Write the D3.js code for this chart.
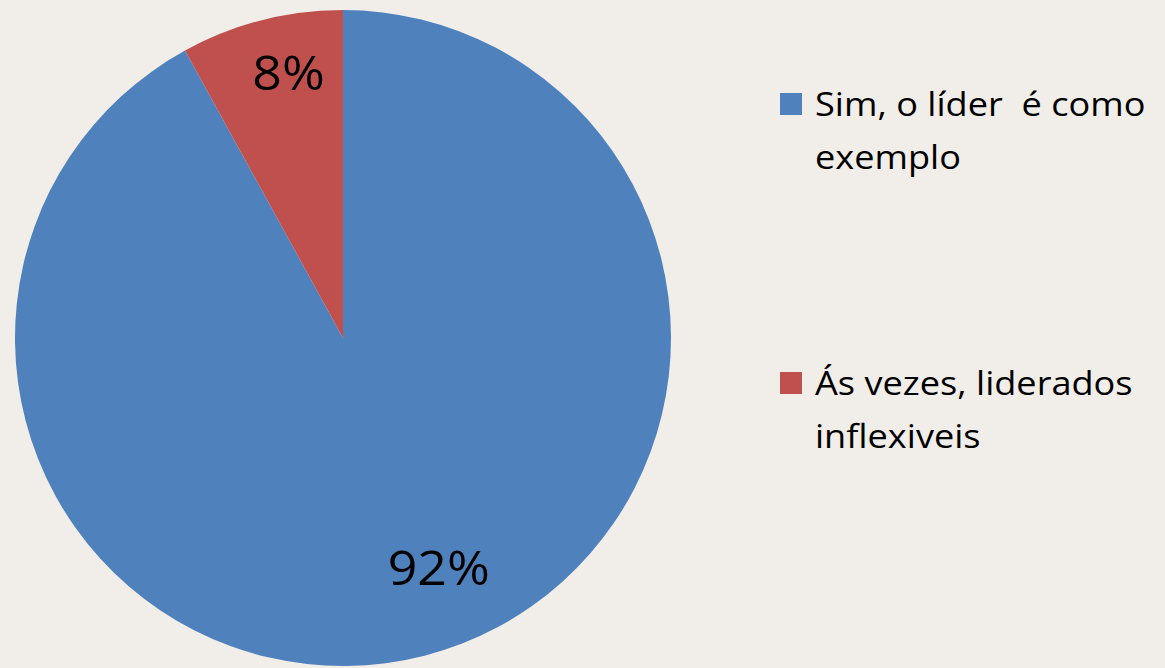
<!DOCTYPE html>
<html>
<head>
<meta charset="utf-8">
<script src="https://cdn.jsdelivr.net/npm/d3@7"></script>
<style>
  html, body { margin: 0; padding: 0; background: #f1eeea; }
  svg { display: block; }
  text { font-family: "Open Sans", Lato, sans-serif; fill: #000; white-space: pre; }
</style>
</head>
<body>
<svg id="chart" width="1165" height="668"></svg>
<script>
// Answer categories and their shares (percent)
const categories = ["Sim, o líder  é como exemplo", "Ás vezes, liderados inflexiveis"];
const legendLines = [["Sim, o líder  é como", "exemplo"], ["Ás vezes, liderados", "inflexiveis"]];
const values = [92, 8];
const valueLabels = ["92%", "8%"];
const colors = ["#4f81bd", "#c0504d"];

const svg = d3.select("#chart");
const cx = 343, cy = 338, radius = 328;

const pie = d3.pie().sort(null).value(d => d)(values);
const arc = d3.arc().innerRadius(0).outerRadius(radius);

const g = svg.append("g").attr("transform", `translate(${cx},${cy})`);

g.selectAll("path.slice")
  .data(pie)
  .join("path")
  .attr("class", "slice")
  .attr("d", arc)
  .attr("fill", (d, i) => colors[i]);

// Data labels: placed along each slice's bisector, slightly widened glyphs
const labelRadius = [248, 272];
const labelAngleShift = [-0.145, 0.05];
const stretch = 1.08;
g.selectAll("text.value")
  .data(pie)
  .join("text")
  .attr("class", "value")
  .attr("text-anchor", "middle")
  .attr("dominant-baseline", "central")
  .attr("font-size", 48)
  .attr("transform", (d, i) => {
    const a = (d.startAngle + d.endAngle) / 2 + labelAngleShift[i];
    const x = labelRadius[i] * Math.sin(a);
    const y = -labelRadius[i] * Math.cos(a);
    return `translate(${x},${y}) scale(${stretch},1)`;
  })
  .text((d, i) => valueLabels[i]);

// Legend
const legendY = [104, 383];
const legend = svg.append("g").attr("transform", "translate(780,0)");
categories.forEach((c, i) => {
  const item = legend.append("g").attr("transform", `translate(0,${legendY[i]})`);
  item.append("rect")
    .attr("x", 0).attr("y", -11)
    .attr("width", 22).attr("height", 22)
    .attr("fill", colors[i]);
  const t = item.append("text")
    .attr("transform", "translate(35,12) scale(1.13,1)")
    .attr("font-size", 32);
  legendLines[i].forEach((line, j) => {
    t.append("tspan").attr("x", 0).attr("dy", j === 0 ? 0 : 53).text(line);
  });
});
</script>
</body>
</html>
